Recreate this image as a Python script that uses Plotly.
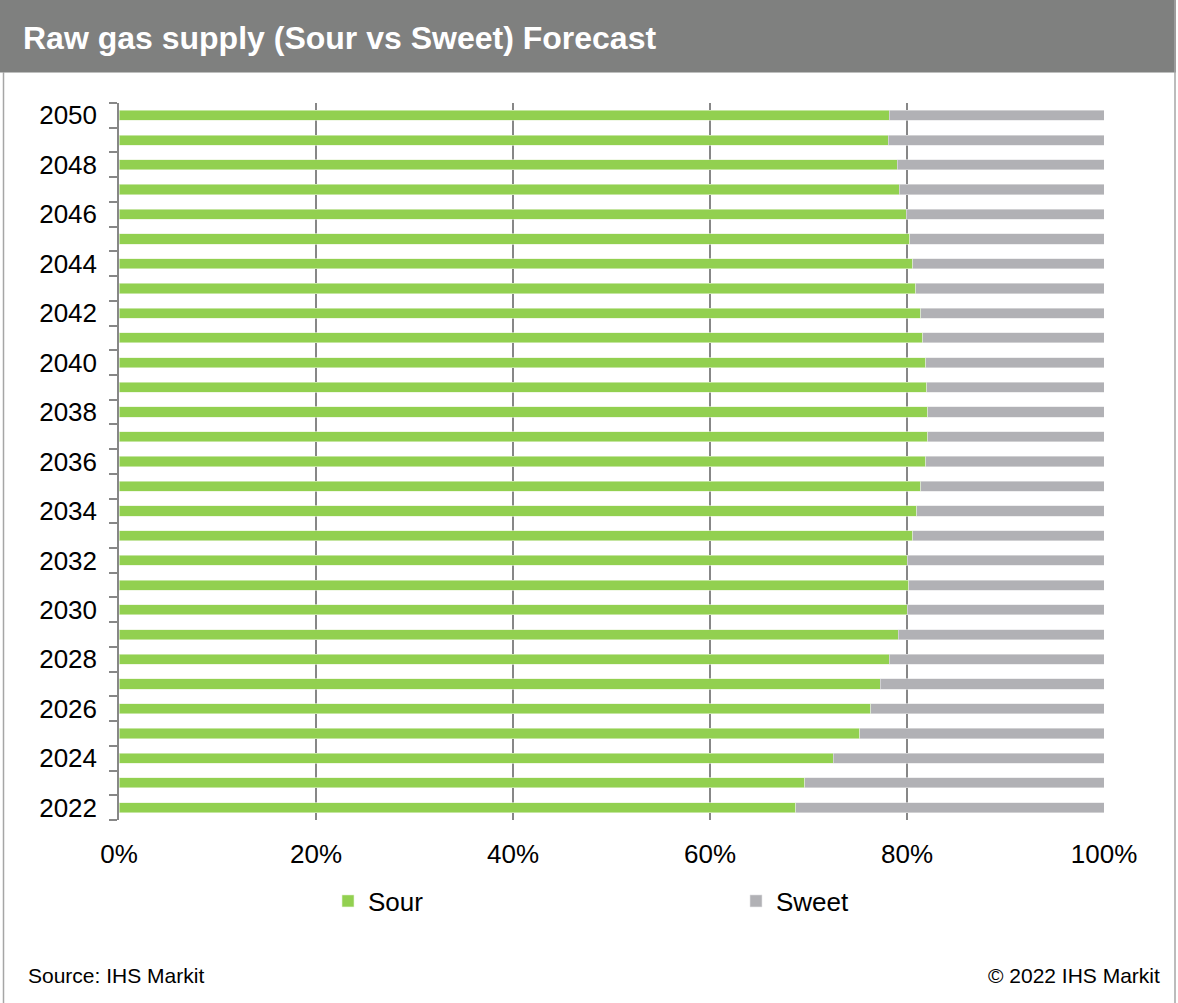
import plotly.graph_objects as go

# Raw gas supply split, share of total (%)
years = list(range(2022, 2051))
sour = [68.7, 69.6, 72.5, 75.2, 76.3, 77.3, 78.2, 79.1, 80.0, 80.2,
        80.0, 80.6, 81.0, 81.4, 81.9, 82.1, 82.1, 82.0, 81.9, 81.6,
        81.4, 80.9, 80.6, 80.3, 79.9, 79.2, 79.0, 78.1, 78.2]
sweet = [31.3, 30.4, 27.5, 24.8, 23.7, 22.7, 21.8, 20.9, 20.0, 19.8,
         20.0, 19.4, 19.0, 18.6, 18.1, 17.9, 17.9, 18.0, 18.1, 18.4,
         18.6, 19.1, 19.4, 19.7, 20.1, 20.8, 21.0, 21.9, 21.8]
year_ticks = list(range(2022, 2051, 2))
x_ticks = [0, 20, 40, 60, 80, 100]
x_labels = ["0%", "20%", "40%", "60%", "80%", "100%"]

W, H = 1178, 1003
L, R, T, B = 119, 1104, 103, 820  # plot area in pixels


def px_x(p):
    return (p - L) / (R - L)


def px_y(p):
    return (B - p) / (B - T)


FONT = "Liberation Sans, Arial, sans-serif"
GRID = "#878787"

fig = go.Figure()
fig.add_trace(go.Bar(
    y=years, x=sour, name="Sour", orientation="h", width=0.41,
    marker=dict(color="#92D050", line=dict(color="#e6f3d6", width=0.6)),
    legend="legend",
))
fig.add_trace(go.Bar(
    y=years, x=sweet, name="Sweet", orientation="h", width=0.41,
    marker=dict(color="#B1B1B5", line=dict(color="#e4e4e6", width=0.6)),
    legend="legend2",
))

shapes = [
    # title band
    dict(type="rect", xref="paper", yref="paper",
         x0=px_x(-2), x1=px_x(1176), y0=px_y(72.5), y1=px_y(-2),
         fillcolor="#7F807F", line=dict(width=0), layer="below"),
    # frame lines
    dict(type="line", xref="paper", yref="paper",
         x0=px_x(3.5), x1=px_x(3.5), y0=px_y(72), y1=px_y(1005),
         line=dict(color="#A6A6A6", width=1.5)),
    dict(type="line", xref="paper", yref="paper",
         x0=px_x(1175), x1=px_x(1175), y0=px_y(0), y1=px_y(1005),
         line=dict(color="#A6A6A6", width=1.5)),
]

annotations = [
    dict(text="<b>Raw gas supply (Sour vs Sweet) Forecast</b>",
         xref="paper", yref="paper", x=px_x(21), y=px_y(38),
         xanchor="left", yanchor="middle", showarrow=False,
         font=dict(family=FONT, size=32, color="white")),
    dict(text="Source: IHS Markit", xref="paper", yref="paper",
         x=px_x(26), y=px_y(976), xanchor="left", yanchor="middle",
         showarrow=False, font=dict(family=FONT, size=21, color="black")),
    dict(text="© 2022 IHS Markit", xref="paper", yref="paper",
         x=px_x(1162), y=px_y(976), xanchor="right", yanchor="middle",
         showarrow=False, font=dict(family=FONT, size=21, color="black")),
]

fig.update_layout(
    width=W, height=H,
    margin=dict(l=L, r=W - R, t=T, b=H - B, pad=0),
    barmode="stack",
    plot_bgcolor="white",
    paper_bgcolor="white",
    font=dict(family=FONT, size=26, color="black"),
    shapes=shapes,
    annotations=annotations,
    legend=dict(orientation="h", x=px_x(328), y=px_y(901),
                xanchor="left", yanchor="middle",
                font=dict(family=FONT, size=26), bgcolor="rgba(0,0,0,0)"),
    legend2=dict(orientation="h", x=px_x(736), y=px_y(901),
                 xanchor="left", yanchor="middle",
                 font=dict(family=FONT, size=26), bgcolor="rgba(0,0,0,0)"),
    showlegend=True,
)

fig.update_xaxes(
    range=[0, 100], tickvals=x_ticks, ticktext=x_labels,
    showgrid=True, gridcolor=GRID, gridwidth=1.5,
    zeroline=False, showline=False, ticks="",
    ticklabelstandoff=16,
    tickfont=dict(family=FONT, size=26, color="black"),
    fixedrange=True,
)
fig.update_yaxes(
    range=[2021.5, 2050.5], tickvals=year_ticks,
    ticktext=[str(y) for y in year_ticks],
    showgrid=False, zeroline=False,
    showline=True, linecolor=GRID, linewidth=1.5,
    ticks="", ticklabelstandoff=15,
    minor=dict(ticks="outside", tick0=2021.5, dtick=1, ticklen=8,
               tickcolor=GRID, tickwidth=1.5, showgrid=False),
    tickfont=dict(family=FONT, size=26, color="black"),
    fixedrange=True,
)

# page has a default body margin; drop it so the chart sits at (0, 0)
fig.write_html("out.html", config={"displayModeBar": False},
               post_script="document.body.style.margin='0';")
